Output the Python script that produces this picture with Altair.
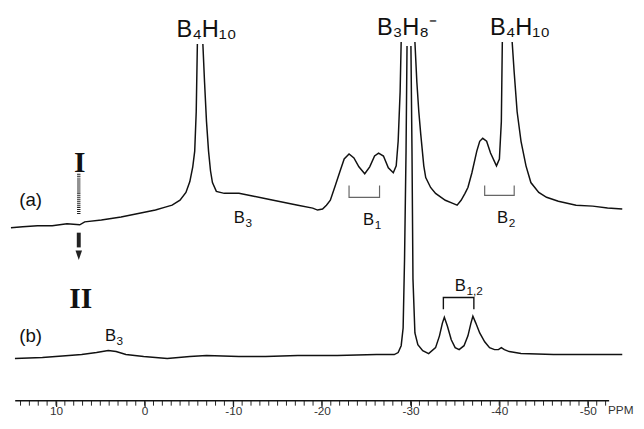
import altair as alt
import pandas as pd

# ---------------- spectrum (a) : chemical shift (ppm) / intensity ----------------
a1_ppm = [15.08, 13.75, 12.08, 10.42, 8.76, 7.32, 6.76, 4.88, 2.66, 0.44, -1.22, -2.33, -3.10,
          -3.99, -4.66, -5.10, -5.43, -5.65, -5.82, -5.95]
a1_int = [176, 177, 178, 178, 180, 179, 182, 184, 187, 191, 194, 197, 199, 204, 212, 223, 238,
          254, 294, 363]
a2_ppm = [-6.57, -6.76, -6.98, -7.21, -7.43, -7.65, -8.09, -8.98, -10.64, -12.31, -13.97, -15.63,
          -17.29, -18.96, -19.51, -20.07, -20.51, -20.95, -21.51, -22.06, -22.51, -23.06, -23.61,
          -24.17, -24.83, -25.39, -25.94, -26.39, -26.94, -27.49, -28.05, -28.38, -28.60, -28.82,
          -28.94]
a2_int = [363, 324, 284, 254, 234, 222, 213, 211, 211, 208, 205, 202, 199, 196, 194, 195, 199,
          204, 219, 234, 246, 251, 247, 238, 231, 238, 249, 252, 249, 237, 232, 239, 264, 314, 365]
a3_ppm = [-30.49, -30.71, -30.93, -31.15, -31.49, -31.71, -32.26, -32.82, -33.92, -34.70, -35.25,
          -35.70, -36.14, -36.47, -36.92, -37.47, -37.80, -38.14, -38.58, -39.02, -39.69, -40.02,
          -40.24, -40.35]
a3_int = [365, 324, 294, 271, 239, 227, 217, 211, 204, 201, 199, 204, 211, 217, 232, 254, 264,
          267, 264, 252, 239, 246, 284, 365]
a4_ppm = [-41.46, -41.69, -42.02, -42.46, -43.02, -43.57, -44.46, -45.34, -46.67, -48.67, -50.55,
          -52.22, -53.88]
a4_int = [365, 334, 294, 264, 239, 222, 212, 207, 203, 199, 198, 196, 195]

# ---------------- spectrum (b) ----------------
b1_ppm = [14.63, 11.53, 8.54, 7.10, 5.43, 4.10, 3.22, 2.11, 0.11, -2.55, -5.10, -6.98, -10.64,
          -13.64, -17.29, -21.73, -26.16, -28.16, -28.60, -28.94, -29.16, -29.32, -29.49, -29.60]
b1_int = [43, 44, 46, 47, 49, 51, 50, 47, 45, 43, 45, 46, 45, 45, 46, 46, 47, 47, 49, 56, 74,
          144, 254, 361]
b2_ppm = [-30.04, -30.16, -30.27, -30.49, -30.82, -31.37, -32.04, -32.82, -33.26, -33.59, -33.81,
          -34.15, -34.59, -35.03, -35.48, -36.03, -36.47, -36.81, -37.03, -37.36, -37.80, -38.36,
          -38.91, -39.47, -39.91, -40.24, -40.58, -41.13, -42.46, -46.12, -50.55, -53.88]
b2_int = [361, 254, 124, 69, 57, 51, 48, 54, 66, 79, 85, 76, 62, 54, 52, 56, 66, 79, 86, 79, 69,
          60, 54, 52, 52, 54, 52, 50, 48, 47, 47, 47]

# ---------------- brackets ----------------
br_name = ["B1"] * 4 + ["B2"] * 4 + ["B12"] * 4
br_ppm = [-23.06, -23.06, -26.50, -26.50, -38.36, -38.36, -41.69, -41.69,
          -33.70, -33.70, -37.14, -37.14]
br_int = [219, 207, 207, 219, 219, 209, 209, 219, 93, 105, 105, 93]

# ---------------- labels ----------------
big_text = ["B₄H₁₀", "B₃H₈⁻", "B₄H₁₀"]
big_ppm = [-6.98, -29.60, -42.35]
big_int = [377, 379, 379]

# small site labels: base letter + subscript, anchored at their junction
site_base = ["B", "B", "B", "B", "B"]
site_sub = ["3", "1", "2", "3", "1,2"]
site_ppm = [-11.31, -25.89, -41.02, 3.22, -36.25]
site_int = [186, 184, 186, 66, 117]

trace_text = ["(a)", "(b)"]
trace_ppm = [12.86, 12.86]
trace_int = [204, 66]

roman_text = ["I", "II"]
roman_ppm = [7.32, 7.21]
roman_int = [242, 103]

# arrow from I to II
arrow_ppm = [7.43]
dash_top, dash_bot = [231], [189]
shaft_top, shaft_bot = [171], [156]
head_int = [148]

# axis
major_ticks = [10, 0, -10, -20, -30, -40, -50]
minor_ticks = list(range(14, -53, -1))
axis_start, axis_end = [14.6], [-52.4]
unit_ppm = [-53.71]

# ------------------------------------------------------------------------------
rows = []
for name, pp, ii in [("a1", a1_ppm, a1_int), ("a2", a2_ppm, a2_int), ("a3", a3_ppm, a3_int),
                     ("a4", a4_ppm, a4_int), ("b1", b1_ppm, b1_int), ("b2", b2_ppm, b2_int)]:
    for k, (p, i) in enumerate(zip(pp, ii)):
        rows.append({"seg": name, "ppm": p, "inten": i, "idx": k})
spec = pd.DataFrame(rows)

br = pd.DataFrame({"name": br_name, "ppm": br_ppm, "inten": br_int,
                   "idx": list(range(len(br_name)))})
sites = pd.DataFrame({"base": site_base, "sub": site_sub, "ppm": site_ppm, "inten": site_int})

xs = alt.Scale(domain=[15.08, -55.43], nice=False, zero=False)
ys = alt.Scale(domain=[0, 396], nice=False, zero=False)

x_axis = alt.Axis(values=major_ticks, tickSize=6, tickColor="#222", tickWidth=1.2,
                  domain=False, grid=False, title=None, labelFont="Liberation Sans",
                  labelFontSize=12, labelColor="#333", labelPadding=-1,
                  labelExpr="'' + datum.value", labelOverlap=False, labelFlush=False,
                  labelBound=False)


def X(field="ppm"):
    return alt.X(f"{field}:Q", scale=xs, axis=x_axis)


def Y(field="inten"):
    return alt.Y(f"{field}:Q", scale=ys, axis=None)


lines = alt.Chart(spec).mark_line(color="#111", strokeWidth=1.5).encode(
    x=X(), y=Y(), detail="seg:N", order="idx:Q")

brackets_ab = alt.Chart(br).transform_filter("datum.name != 'B12'").mark_line(
    color="#666", strokeWidth=1.2).encode(x=X(), y=Y(), detail="name:N", order="idx:Q")
brackets_b = alt.Chart(br).transform_filter("datum.name == 'B12'").mark_line(
    color="#111", strokeWidth=1.4).encode(x=X(), y=Y(), detail="name:N", order="idx:Q")

big = alt.Chart(pd.DataFrame({"t": big_text, "ppm": big_ppm, "inten": big_int})).mark_text(
    font="Liberation Sans", fontSize=24, color="#111", baseline="middle").encode(
    x=X(), y=Y(), text="t:N")
site_b = alt.Chart(sites).mark_text(
    font="Liberation Sans", fontSize=17, color="#111", baseline="middle", align="right").encode(
    x=X(), y=Y(), text="base:N")
site_s = alt.Chart(sites).mark_text(
    font="Liberation Sans", fontSize=12, color="#111", baseline="middle", align="left",
    dx=0.5, dy=5).encode(x=X(), y=Y(), text="sub:N")
tr = alt.Chart(pd.DataFrame({"t": trace_text, "ppm": trace_ppm, "inten": trace_int})).mark_text(
    font="Liberation Sans", fontSize=19, color="#111", baseline="middle").encode(
    x=X(), y=Y(), text="t:N")
roman = alt.Chart(pd.DataFrame({"t": roman_text, "ppm": roman_ppm, "inten": roman_int})).mark_text(
    font="Liberation Serif", fontSize=30, fontWeight="bold", color="#111",
    baseline="middle").encode(x=X(), y=Y(), text="t:N")

arr = pd.DataFrame({"ppm": arrow_ppm, "d0": dash_top, "d1": dash_bot, "s0": shaft_top,
                    "s1": shaft_bot, "h": head_int})
dash = alt.Chart(arr).mark_rule(color="#222", strokeWidth=3.5, strokeDash=[1, 1]).encode(
    x=X(), y=Y("d0"), y2="d1:Q")
shaft = alt.Chart(arr).mark_rule(color="#222", strokeWidth=4).encode(
    x=X(), y=Y("s0"), y2="s1:Q")
head = alt.Chart(arr).mark_point(shape="M -0.7 -1 L 0.7 -1 L 0 1 Z", size=90, filled=True,
                                 color="#222", opacity=1).encode(x=X(), y=Y("h"))

minor = alt.Chart(pd.DataFrame({"ppm": minor_ticks})).mark_rule(
    color="#222", strokeWidth=1).encode(x=X(), y=alt.value(396), y2=alt.value(401))
axline = alt.Chart(pd.DataFrame({"ppm": axis_start, "b": axis_end})).mark_rule(
    color="#111", strokeWidth=1.6).encode(x=X(), x2="b:Q", y=alt.value(396))
unit = alt.Chart(pd.DataFrame({"ppm": unit_ppm, "t": ["PPM"]})).mark_text(
    font="Liberation Sans", fontSize=12, color="#333", baseline="top").encode(
    x=X(), y=alt.value(401), text="t:N")

chart = alt.layer(lines, brackets_ab, brackets_b, big, site_b, site_s, tr, roman, dash, shaft,
                  head, minor, axline, unit).properties(
    width=636, height=396, padding=0, background="white"
).configure_view(stroke=None)

chart.save("out.html", embed_options={"renderer": "svg", "actions": False})
